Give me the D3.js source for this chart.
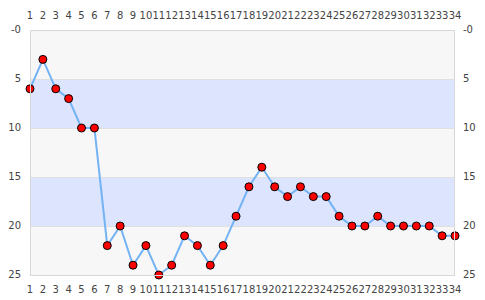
<!DOCTYPE html>
<html><head><meta charset="utf-8">
<script src="https://cdn.jsdelivr.net/npm/d3@7"></script>
<style>body{margin:0;background:#fff}svg{display:block}text{font-family:"DejaVu Sans";font-size:10px;fill:#444}</style>
</head><body>
<svg id="c" width="485" height="300"></svg>
<script>
const xs = d3.range(1, 35);
const values = [6,3,6,7,10,10,22,20,24,22,25,24,21,22,24,22,19,16,14,16,17,16,17,17,19,20,20,19,20,20,20,20,21,21];
const yTicks = [0,5,10,15,20,25];
const bands = [[0,5],[5,10],[10,15],[15,20],[20,25]];

const svg = d3.select("#c");
const L = 30, R = 455, T = 30, B = 275;
const x = d3.scaleLinear().domain([1,34]).range([L,R]);
const y = d3.scaleLinear().domain([0,25]).range([T,B]);

svg.selectAll("rect.band").data(bands).enter().append("rect")
  .attr("x", L).attr("width", R-L)
  .attr("y", d=>y(d[0])).attr("height", d=>y(d[1])-y(d[0]))
  .attr("fill", (d,i)=> i%2 ? "#dde4fd" : "#f7f7f7");

svg.selectAll("line.grid").data(yTicks.slice(1,-1)).enter().append("line")
  .attr("x1", L).attr("x2", R).attr("y1", d=>y(d)+0.5).attr("y2", d=>y(d)+0.5)
  .attr("stroke", "#e0e0e0");

const line = d3.line().x((d,i)=>x(xs[i])).y(d=>y(d));
svg.append("path").datum(values).attr("d", line)
  .attr("fill","none").attr("stroke","#74b3f3").attr("stroke-width",2);

svg.selectAll("circle").data(values).enter().append("circle")
  .attr("cx",(d,i)=>x(xs[i])).attr("cy",d=>y(d)).attr("r",4)
  .attr("fill","#ff0000").attr("stroke","#000").attr("stroke-width",1);

svg.append("rect").attr("x",L+0.5).attr("y",T+0.5).attr("width",R-L-1).attr("height",B-T)
  .attr("fill","none").attr("stroke","#d8d8d8");

const fmt = d => d===0 ? "-0" : String(d);
svg.selectAll("text.xt").data(xs).enter().append("text")
  .attr("x", d=>x(d)).attr("y", 15).attr("dy","0.35em").attr("text-anchor","middle").text(d=>d);
svg.selectAll("text.xb").data(xs).enter().append("text")
  .attr("x", d=>x(d)).attr("y", 289).attr("dy","0.35em").attr("text-anchor","middle").text(d=>d);
svg.selectAll("text.yl").data(yTicks).enter().append("text")
  .attr("x", 21).attr("y", d=>y(d)-1).attr("dy","0.35em").attr("text-anchor","end").text(fmt);
svg.selectAll("text.yr").data(yTicks).enter().append("text")
  .attr("x", 463).attr("y", d=>y(d)-1).attr("dy","0.35em").attr("text-anchor","start").text(fmt);
</script>
</body></html>
